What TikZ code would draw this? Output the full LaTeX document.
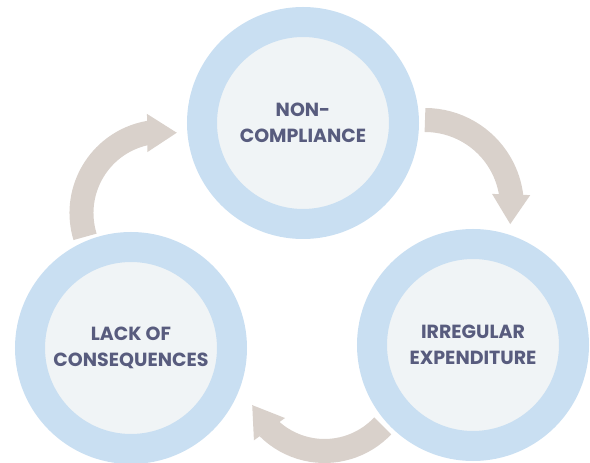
\documentclass[tikz,border=0pt]{standalone}
\usepackage{fontspec}
\setmainfont{Poppins}
\usepackage{tikz}
\usetikzlibrary{arrows.meta,bending}
\definecolor{ringblue}{RGB}{201,223,242}
\definecolor{innerfill}{RGB}{240,244,246}
\definecolor{labeltext}{RGB}{88,92,126}
\definecolor{arrowgrey}{RGB}{217,209,203}

\begin{document}
\begin{tikzpicture}
[   x=1pt,y=1pt,
    cnode/.style={draw=ringblue,line width=30pt,fill=innerfill,minimum size=202pt,inner sep=0pt,circle,
        text=labeltext,align=center,font=\bfseries\fontsize{19}{26}\selectfont},
]
\tikzset{cycle arrow/.style={draw=arrowgrey,line width=24pt,-{Triangle[length=30pt,width=36pt]}}}
\useasboundingbox (0,0) rectangle (590,463);
\node[cnode] (noncomp) at (303,340) {NON-\\COMPLIANCE};
\node[cnode] (irreg) at (473,118) {IRREGULAR\\EXPENDITURE};
\node[cnode] (lack) at (131,115) {LACK OF\\CONSEQUENCES};
% arcs between the rings, clockwise
\foreach \i/\cx/\cy/\r/\sa/\ea in {1/425/256/87/90/-11.6, 2/324.5/92/80/316.7/205, 3/163/250/81.5/197/80}
{
	\coordinate (c-\i) at (\cx,\cy);
	\path[cycle arrow] (c-\i) ++(\sa:\r) arc[start angle=\sa,end angle=\ea,radius=\r];
}
\end{tikzpicture}
\end{document}
